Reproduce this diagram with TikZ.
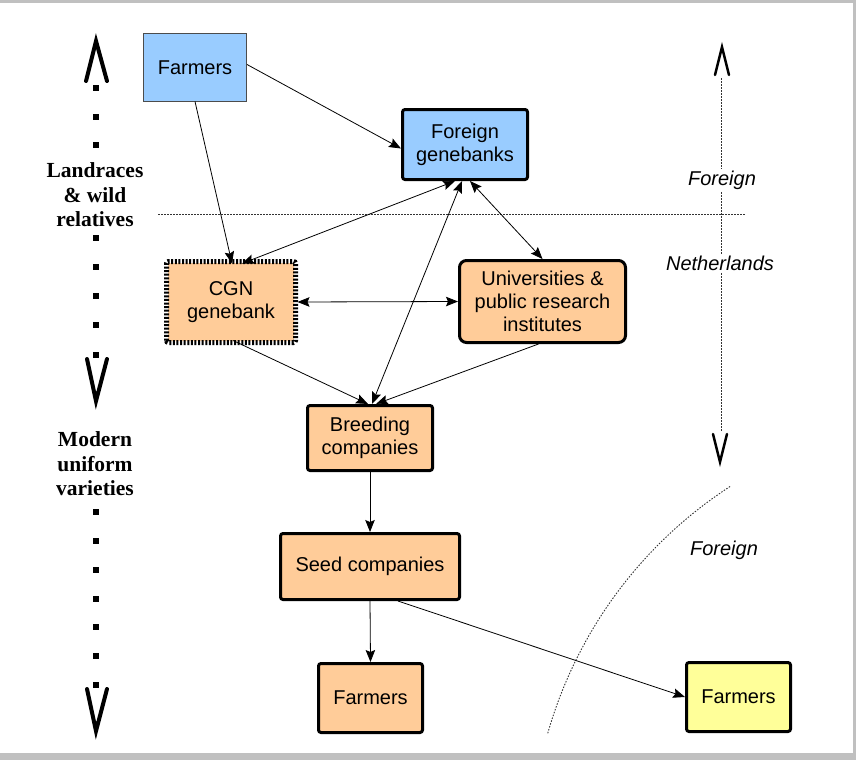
\documentclass[tikz,border=0pt]{standalone}
\usepackage{fontspec}
\setmainfont{Liberation Sans}
\newfontfamily\serifbold{Liberation Serif}
\usetikzlibrary{arrows.meta}
\definecolor{bluebox}{HTML}{99CCFF}
\definecolor{peach}{HTML}{FFCC99}
\definecolor{yel}{HTML}{FFFF99}
\definecolor{framegray}{HTML}{C0C0C0}
\begin{document}
\begin{tikzpicture}[x=1pt,y=-1pt,
  box/.style={draw=black, line width=3pt, rounded corners=2.5pt, align=center, inner sep=0pt,
    font=\fontsize{20}{23}\selectfont},
  tipA/.tip={Stealth[length=12pt,width=9.5pt,inset=2pt]},
  conn/.style={line width=0.8pt, -tipA},
  bothconn/.style={line width=0.8pt, tipA-tipA},
  sidelabel/.style={font=\serifbold\bfseries\fontsize{21.5}{24.5}\selectfont, align=center, inner sep=0pt},
  itlabel/.style={font=\itshape\fontsize{20}{23}\selectfont, inner sep=2pt, fill=white},
  dotline/.style={line width=0.9pt, dash pattern=on 1.5pt off 1.5pt, black!80},
  bigtip/.style={line width=4pt, line cap=round, line join=miter},
  smalltip/.style={line width=2.5pt, line cap=round, line join=miter}
]
\useasboundingbox (0,0) rectangle (856,760);
\fill[white] (0,0) rectangle (856,760);
% frame
\fill[framegray] (0,0) rectangle (856,3);
\fill[framegray] (853,0) rectangle (856,760);
\fill[framegray] (0,753) rectangle (856,760);

% dotted separators
\draw[dotline] (158,214) -- (745,214);
\draw[dotline] (721,78) -- (721,432);
\draw[dotline] plot[domain=195.9:237.1, samples=80] ({968+437*cos(\x)},{853+437*sin(\x)});

% right direction marks
\draw[smalltip] (715,75) -- (722,47) -- (729,75);
\draw[smalltip] (713,434) -- (720,462) -- (727,434);
\node[itlabel] (lforeign1) at (722,180) {Foreign};
\node[itlabel] (lnl) at (720,263) {Netherlands};
\node[itlabel] (lforeign2) at (724,550) {Foreign};

% left column
\draw[bigtip] (86,81) -- (96,41) -- (107,81);
\draw[bigtip] (87,359) -- (96,401) -- (107,359);
\draw[bigtip] (87,689) -- (96,731) -- (107,689);
\foreach \yy in {88,117,145,238,267,296,325,355,512,541,570,599,627,656,685}
  \fill (93,\yy-3) rectangle (99,\yy+3);
\node[sidelabel] (lland) at (95,195) {Landraces\\\& wild\\relatives};
\node[sidelabel] (lmod) at (95,464) {Modern\\uniform\\varieties};

% boxes
\node[box, fill=bluebox, draw=black!70, line width=1pt, rounded corners=0pt,
  minimum width=103pt, minimum height=67pt] (ftop) at (195,67.5) {Farmers};
\node[box, fill=bluebox, minimum width=125pt, minimum height=70pt] (fgb) at (465,144.5) {Foreign\\genebanks};
\node[box, fill=peach, draw=none, minimum width=126pt, minimum height=78pt] (cgn) at (231,302) {CGN\\genebank};
\draw[line width=5pt, dash pattern=on 2pt off 1.6pt, rounded corners=2pt]
  (cgn.south west) rectangle (cgn.north east);
\node[box, fill=peach, rounded corners=7pt, minimum width=166pt, minimum height=82pt] (univ) at (542.5,301.5)
  {Universities \&\\public research\\institutes};
\node[box, fill=peach, minimum width=125pt, minimum height=65pt] (breed) at (370,438) {Breeding\\companies};
\node[box, fill=peach, minimum width=179pt, minimum height=66pt] (seed) at (370,566.5) {Seed companies};
\node[box, fill=peach, minimum width=104pt, minimum height=69pt] (fbot) at (370.5,698) {Farmers};
\node[box, fill=yel, minimum width=104pt, minimum height=69pt] (fyel) at (738.5,697) {Farmers};

% connectors
\draw[conn] ([yshift=3pt]ftop.east) -- ([yshift=-4pt]fgb.west);
\draw[conn] (ftop.south) -- ([xshift=1pt,yshift=-2pt]cgn.north);
\draw[bothconn] ([xshift=-10pt]fgb.south) -- ([xshift=11pt,yshift=-2pt]cgn.north);
\draw[bothconn] ([xshift=-3pt]fgb.south) -- ([xshift=2pt]breed.north);
\draw[bothconn] ([xshift=5pt]fgb.south) -- (univ.north);
\draw[bothconn] ([xshift=2pt]cgn.east) -- (univ.west);
\draw[conn] ([xshift=2pt,yshift=2pt]cgn.south) -- ([xshift=-2pt]breed.north);
\draw[conn] ([xshift=-4pt]univ.south) -- ([xshift=6pt]breed.north);
\draw[conn] (breed.south) -- (seed.north);
\draw[conn] (seed.south) -- (fbot.north);
\draw[conn] ([xshift=28pt]seed.south) -- (fyel.west);
\end{tikzpicture}
\end{document}
